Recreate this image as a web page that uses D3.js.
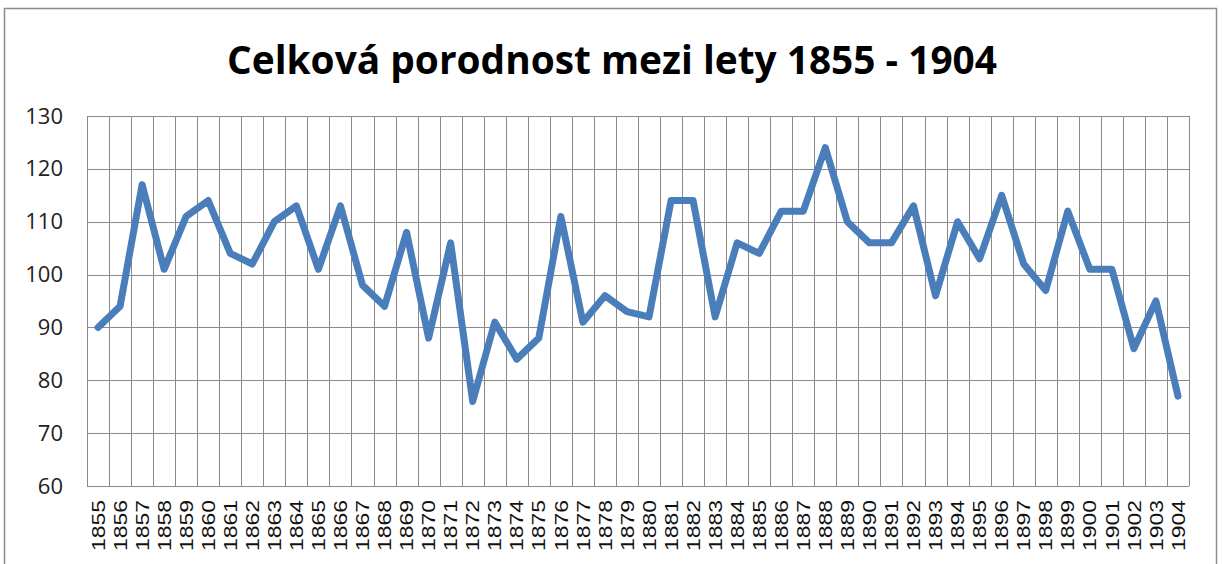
<!DOCTYPE html>
<html>
<head>
<meta charset="utf-8">
<script src="https://cdn.jsdelivr.net/npm/d3@7"></script>
<style>
  html, body { margin: 0; padding: 0; background: #fff; overflow: hidden; }
  svg { display: block; }
</style>
</head>
<body>
<svg id="chart"></svg>
<script>
// data
let years = d3.range(1855, 1905).map(String);
let births = [
  90, 94, 117, 101, 111, 114, 104, 102, 110, 113,
  101, 113, 98, 94, 108, 88, 106, 76, 91, 84,
  88, 111, 91, 96, 93, 92, 114, 114, 92, 106,
  104, 112, 112, 124, 110, 106, 106, 113, 96, 110,
  103, 115, 102, 97, 112, 101, 101, 86, 95, 77
];
let yTicks = [60, 70, 80, 90, 100, 110, 120, 130];
let title = "Celková porodnost mezi lety 1855 - 1904";

let width = 1222, height = 564;
let margins = { top: 116, right: 33, bottom: 78, left: 87 };
let innerWidth = width - margins.left - margins.right;
let innerHeight = height - margins.top - margins.bottom;

let svg = d3.select("#chart").attr("width", width).attr("height", height);

// outer chart frame (bottom edge is outside the picture)
svg.append("path")
  .attr("d", "M4.5,564 V8.5 H1216.5 V564")
  .attr("fill", "none")
  .attr("stroke", "#8c8c8c")
  .attr("stroke-width", 1.5);

svg.append("text")
  .attr("x", 612).attr("y", 74)
  .attr("text-anchor", "middle")
  .attr("textLength", 770)
  .attr("lengthAdjust", "spacingAndGlyphs")
  .style("font-family", "'Open Sans', 'Noto Sans', sans-serif")
  .style("font-weight", "bold")
  .style("font-size", "40px")
  .text(title);

let g = svg.append("g")
  .attr("transform", "translate(" + margins.left + "," + margins.top + ")");

let xScale = d3.scaleBand().domain(years).range([0, innerWidth]);
let yScale = d3.scaleLinear().domain([60, 130]).range([innerHeight, 0]);

// horizontal grid
g.append("g")
  .selectAll("line")
  .data(yTicks)
  .join("line")
  .attr("x1", 0).attr("x2", innerWidth)
  .attr("y1", d => Math.round(yScale(d)) + 0.5)
  .attr("y2", d => Math.round(yScale(d)) + 0.5)
  .attr("stroke", "#8a8a8a")
  .attr("stroke-width", 1);

// vertical grid at category borders
let borders = years.map(d => xScale(d)).concat([innerWidth]);
g.append("g")
  .selectAll("line")
  .data(borders)
  .join("line")
  .attr("x1", d => Math.round(d) + 0.5).attr("x2", d => Math.round(d) + 0.5)
  .attr("y1", 0).attr("y2", innerHeight)
  .attr("stroke", "#8a8a8a")
  .attr("stroke-width", 1);

// y axis labels
let yAxis = g.append("g")
  .call(d3.axisLeft(yScale).tickValues(yTicks).tickSize(0).tickPadding(24));
yAxis.select(".domain").remove();
yAxis.selectAll("text")
  .style("font-family", "'Open Sans', 'Liberation Sans', sans-serif")
  .style("font-size", "22px")
  .attr("fill", "#222");

// x axis labels, rotated
let xAxis = g.append("g")
  .attr("transform", "translate(0," + innerHeight + ")")
  .call(d3.axisBottom(xScale).tickSize(0).tickPadding(0));
xAxis.select(".domain").remove();
xAxis.selectAll("text")
  .style("font-family", "'Liberation Sans', Arial, sans-serif")
  .style("font-size", "19px")
  .attr("fill", "#111")
  .attr("text-anchor", "end")
  .attr("textLength", 51)
  .attr("lengthAdjust", "spacingAndGlyphs")
  .attr("dy", "0.35em")
  .attr("transform", "translate(0,14) rotate(-90)")
  .attr("y", 0).attr("x", 0);

// the line
let line = d3.line()
  .x((d, i) => xScale(years[i]) + xScale.bandwidth() / 2)
  .y(d => yScale(d));

g.append("path")
  .datum(births)
  .attr("d", line)
  .attr("fill", "none")
  .attr("stroke", "#4a7ebb")
  .attr("stroke-width", 7)
  .attr("stroke-linejoin", "round")
  .attr("stroke-linecap", "round");
</script>
</body>
</html>
